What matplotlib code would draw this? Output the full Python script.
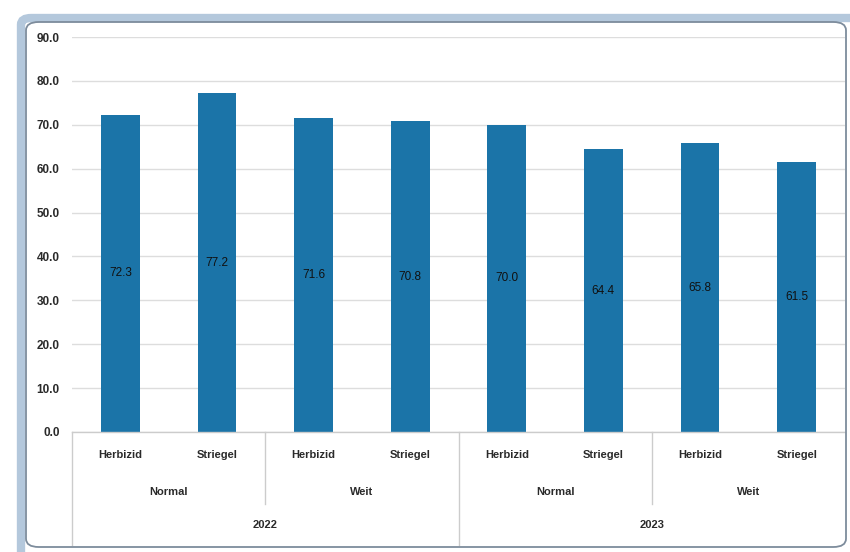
import matplotlib.pyplot as plt
from matplotlib.patches import FancyBboxPatch

# data
treatments = ["Herbizid", "Striegel", "Herbizid", "Striegel",
              "Herbizid", "Striegel", "Herbizid", "Striegel"]
spacings = ["Normal", "Weit", "Normal", "Weit"]
years = ["2022", "2023"]
values = [72.3, 77.2, 71.6, 70.8, 70.0, 64.4, 65.8, 61.5]
yticks = [0, 10, 20, 30, 40, 50, 60, 70, 80, 90]

plt.rcParams['font.family'] = ['Liberation Sans', 'DejaVu Sans']

fig = plt.figure(figsize=(8.5, 5.52), dpi=100)
fig.patch.set_facecolor('white')

W, H = 850, 552
# window-like frame, partly cut off at right and bottom like the screenshot
outer = FancyBboxPatch((21 / W, -0.02), 1.05, 1 - 18 / H + 0.02,
                       boxstyle="round,pad=0,rounding_size=0.012",
                       transform=fig.transFigure, facecolor='none',
                       edgecolor='#b4c8dc', linewidth=6)
fig.patches.append(outer)
inner = FancyBboxPatch((26 / W, 1 - 547 / H), 820 / W, 525 / H,
                       boxstyle="round,pad=0,rounding_size=0.015",
                       transform=fig.transFigure, facecolor='none',
                       edgecolor='#7d8c9c', linewidth=1.3)
fig.patches.append(inner)

ax = fig.add_axes([72 / W, 1 - 432 / H, 773 / W, 395 / H])
x = list(range(len(values)))
ax.bar(x, values, width=0.4, color='#1b74a8', zorder=3)
for xi, v in zip(x, values):
    ax.text(xi, v / 2, f"{v:.1f}", ha='center', va='center', fontsize=8.5,
            color='#111111', zorder=4)

ax.set_xlim(-0.5, len(values) - 0.5)
ax.set_ylim(0, 90)
ax.set_yticks(yticks)
ax.set_yticklabels([f"{t:.1f}" for t in yticks], fontsize=8.5, fontweight='bold', color='#2a2a2a')
ax.yaxis.grid(True, color='#dddddd', linewidth=1, zorder=0)
ax.tick_params(axis='y', length=0, pad=9)
ax.set_xticks([])
for s in ax.spines.values():
    s.set_visible(False)

# category table under the axis
lc = '#cccccc'
ax.plot([-0.5, 7.5], [0, 0], color=lc, lw=1, clip_on=False, zorder=5)
row1, row2, row3, bottom = -5.2, -13.6, -21.2, -25.7
for xi, t in zip(x, treatments):
    ax.text(xi, row1, t, ha='center', va='center', fontsize=8, fontweight='bold', color='#2a2a2a')
for i, s in enumerate(spacings):
    ax.text(2 * i + 0.5, row2, s, ha='center', va='center', fontsize=8, fontweight='bold', color='#2a2a2a')
for i, yv in enumerate(years):
    ax.text(4 * i + 1.5, row3, yv, ha='center', va='center', fontsize=8, fontweight='bold', color='#2a2a2a')
# separators
for xs in [-0.5, 3.5]:
    ax.plot([xs, xs], [0, bottom], color=lc, lw=1, clip_on=False)
for xs in [1.5, 5.5]:
    ax.plot([xs, xs], [0, -16.5], color=lc, lw=1, clip_on=False)

fig.savefig('out.png', dpi=100)
